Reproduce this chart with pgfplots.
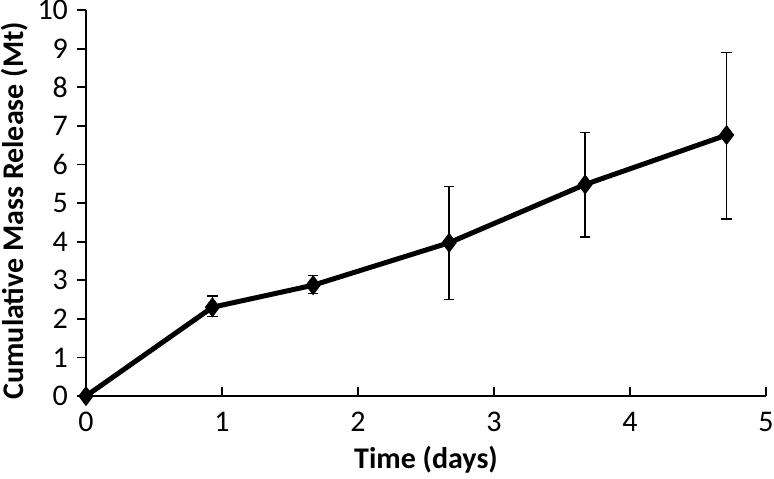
\documentclass[border=0pt]{standalone}
\usepackage{fontspec}
\setmainfont{Carlito}
\usepackage{pgfplots}
\pgfplotsset{compat=1.18}
\begin{document}
\begin{tikzpicture}
\begin{axis}[
  scale only axis, width=340pt, height=193pt,
  xmin=0, xmax=5, ymin=0, ymax=10,
  axis x line=bottom, axis y line=left,
  axis line style={-, line width=1pt, black},
  xtick={0,1,2,3,4,5}, ytick={0,1,2,3,4,5,6,7,8,9,10},
  xtick align=inside, ytick align=outside,
  major tick length=4.5pt,
  tick style={black, line width=0.9pt},
  ticklabel style={font=\fontsize{15}{17}\selectfont},
  xticklabel style={yshift=-4.5pt},
  yticklabel style={xshift=-1pt},
  /pgf/number format/assume math mode=true,
  xlabel={Time (days)},
  ylabel={Cumulative Mass Release (Mt)},
  label style={font=\fontsize{15}{17}\selectfont\bfseries},
  xlabel style={at={(axis description cs:0.5,-0.165)}, anchor=center},
  ylabel style={at={(axis description cs:-0.105,0.48)}, anchor=center},
  clip=false,
]
\addplot[black, line width=2.5pt, mark=diamond*, mark size=3pt,
  mark options={solid},
  error bars/.cd, y dir=both, y explicit,
  error bar style={line width=0.8pt, black},
  error mark options={line width=0.8pt, mark size=2.6pt, rotate=90}]
coordinates {
  (0,0)
  (0.93,2.30) += (0,0.29) -= (0,0.24)
  (1.67,2.87) += (0,0.25) -= (0,0.21)
  (2.67,3.97) += (0,1.46) -= (0,1.47)
  (3.67,5.48) += (0,1.35) -= (0,1.36)
  (4.71,6.76) += (0,2.14) -= (0,2.17)
};
\end{axis}
\pgfresetboundingbox
\path (current axis.south west) ++(-43pt,-41pt) rectangle ++(387pt,239pt);
\end{tikzpicture}
\end{document}
